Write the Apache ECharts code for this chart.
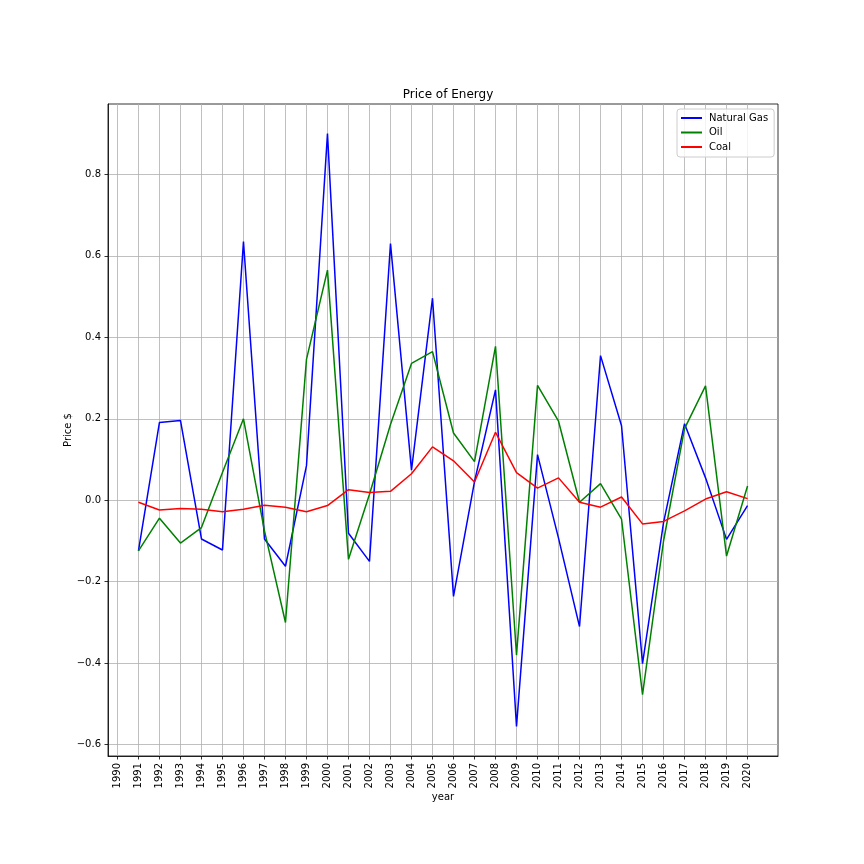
<!DOCTYPE html>
<html>
<head>
<meta charset="utf-8">
<title>Price of Energy</title>
<script src="https://cdn.jsdelivr.net/npm/echarts@6/dist/echarts.min.js"></script>
<style>
  html, body { margin: 0; padding: 0; background: #fff; }
  #main { width: 864px; height: 864px; }
</style>
</head>
<body>
<div id="main"></div>
<script>
// yearly price change
var years = [1991, 1992, 1993, 1994, 1995, 1996, 1997, 1998, 1999, 2000,
             2001, 2002, 2003, 2004, 2005, 2006, 2007, 2008, 2009, 2010,
             2011, 2012, 2013, 2014, 2015, 2016, 2017, 2018, 2019, 2020]

var naturalGas = [-0.124, 0.191, 0.196, -0.095, -0.122, 0.635, -0.095, -0.162, 0.085, 0.900,
                  -0.081, -0.150, 0.630, 0.074, 0.496, -0.236, 0.046, 0.271, -0.555, 0.112,
                  -0.093, -0.310, 0.355, 0.183, -0.401, -0.055, 0.188, 0.055, -0.096, -0.013]

var oil = [-0.124, -0.044, -0.105, -0.067, 0.068, 0.200, -0.075, -0.300, 0.346, 0.565,
           -0.145, 0.015, 0.186, 0.336, 0.365, 0.165, 0.095, 0.378, -0.380, 0.282,
           0.194, -0.005, 0.041, -0.046, -0.477, -0.100, 0.176, 0.281, -0.137, 0.035]

var coal = [-0.005, -0.024, -0.020, -0.022, -0.028, -0.022, -0.012, -0.017, -0.028, -0.013,
            0.026, 0.019, 0.022, 0.065, 0.131, 0.097, 0.045, 0.167, 0.068, 0.030,
            0.055, -0.005, -0.017, 0.008, -0.058, -0.052, -0.026, 0.003, 0.021, 0.004]

// tick labels
var xTicks = []
for (var y = 1990; y <= 2020; y++) xTicks.push(y)
var yTicks = [-0.6, -0.4, -0.2, 0.0, 0.2, 0.4, 0.6, 0.8]

var FONT = 'DejaVu Sans'

// matplotlib style 5% margins around the data
function pad(lo, hi) {
  var d = (hi - lo) * 0.05
  return [lo - d, hi + d]
}
var allVals = naturalGas.concat(oil, coal)
var yLim = pad(Math.min.apply(null, allVals), Math.max.apply(null, allVals))
var xLim = pad(years[0], years[years.length - 1])

function pairs(vals) {
  return years.map(function (yr, i) { return [yr, vals[i]] })
}

function line(name, color, vals) {
  return {
    name: name,
    type: 'line',
    data: pairs(vals),
    showSymbol: false,
    symbol: 'none',
    lineStyle: { color: color, width: 1.5 },
    itemStyle: { color: color },
    z: 3
  }
}

var myChart = echarts.init(document.getElementById('main'), null, { renderer: 'canvas' })

myChart.setOption({
  animation: false,
  backgroundColor: '#fff',
  textStyle: { fontFamily: FONT },
  title: {
    text: 'Price of Energy',
    left: 443,
    textAlign: 'center',
    top: 84,
    textStyle: { fontFamily: FONT, fontSize: 12, fontWeight: 'normal', color: '#000' }
  },
  legend: {
    orient: 'vertical',
    left: 677,
    top: 109,
    padding: [3, 6, 4, 4],
    itemGap: 2.5,
    itemWidth: 21,
    itemHeight: 2,
    icon: 'rect',
    backgroundColor: 'rgba(255,255,255,0.8)',
    borderColor: '#cccccc',
    borderWidth: 1,
    borderRadius: 3,
    textStyle: { fontFamily: FONT, fontSize: 10, color: '#000', lineHeight: 12, padding: [0, 0, 0, 2] },
    data: ['Natural Gas', 'Oil', 'Coal']
  },
  grid: {
    left: 108,
    right: 86,
    top: 104,
    bottom: 108,
    show: true,
    borderColor: '#000',
    borderWidth: 0.8,
    containLabel: false
  },
  xAxis: {
    type: 'value',
    min: xLim[0],
    max: xLim[1],
    name: 'year',
    nameLocation: 'middle',
    nameGap: 36,
    nameMoveOverlap: false,
    nameTextStyle: { fontFamily: FONT, fontSize: 10, color: '#000' },
    axisLine: { show: true, onZero: false, lineStyle: { color: '#000', width: 0.8 } },
    axisTick: { show: true, length: 3.5, customValues: xTicks, lineStyle: { color: '#000', width: 0.8 } },
    axisLabel: {
      customValues: xTicks,
      rotate: 90,
      margin: 7,
      fontFamily: FONT,
      fontSize: 10,
      color: '#000',
      formatter: function (v) { return String(v) }
    },
    splitLine: { show: true, lineStyle: { color: '#b0b0b0', width: 0.8 } }
  },
  yAxis: {
    type: 'value',
    min: yLim[0],
    max: yLim[1],
    name: 'Price $',
    nameLocation: 'middle',
    nameGap: 35,
    nameMoveOverlap: false,
    nameTextStyle: { fontFamily: FONT, fontSize: 10, color: '#000' },
    axisLine: { show: true, onZero: false, lineStyle: { color: '#000', width: 0.8 } },
    axisTick: { show: true, length: 3.5, customValues: yTicks, lineStyle: { color: '#000', width: 0.8 } },
    axisLabel: {
      customValues: yTicks,
      margin: 7,
      fontFamily: FONT,
      fontSize: 10,
      color: '#000',
      formatter: function (v) { return v.toFixed(1).replace('-', '\u2212') }
    },
    splitLine: { show: true, lineStyle: { color: '#b0b0b0', width: 0.8 } }
  },
  series: [
    line('Natural Gas', '#0000ff', naturalGas),
    line('Oil', '#008000', oil),
    line('Coal', '#ff0000', coal)
  ]
})
</script>
</body>
</html>
